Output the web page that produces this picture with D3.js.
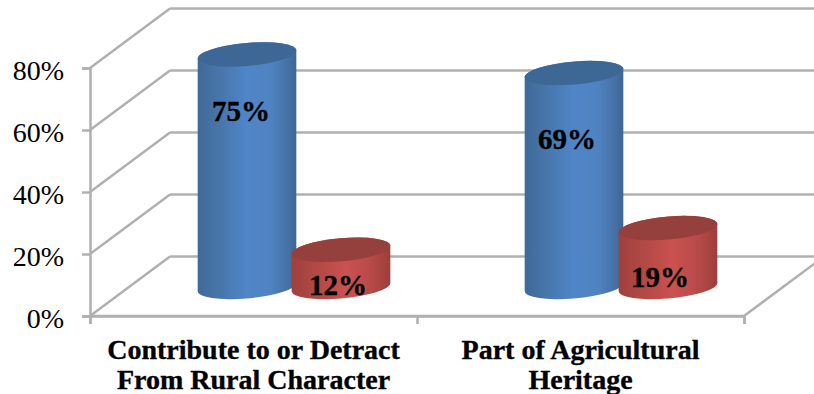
<!DOCTYPE html>
<html>
<head>
<meta charset="utf-8">
<script src="https://cdn.jsdelivr.net/npm/d3@7/dist/d3.min.js"></script>
<style>
html,body{margin:0;padding:0;background:#fff;overflow:hidden}
svg{display:block}
text{font-family:"Liberation Serif",serif;fill:#000}
.heavy{stroke:#000;stroke-width:0.35px}
</style>
</head>
<body>
<svg id="chart" width="814" height="394"></svg>
<script>
// Survey responses, in percent
const categories = ["Contribute to or Detract From Rural Character", "Part of Agricultural Heritage"];
const categoryLines = [["Contribute to or Detract", "From Rural Character"], ["Part of Agricultural", "Heritage"]];
const seriesNames = ["blue", "red"];
const blueValues = [75, 69];
const redValues = [12, 19];
const yTicks = [0, 20, 40, 60, 80];

// Layout of the oblique 3-D box
const frontLeft = 90, frontRight = 744, floorY = 316, topY = 68;
const depthX = 80, depthY = -59.5;
const barDepthY = -29;
const rx = 49.5, ry = 11.5, tilt = -5;
// Where each value label sits, measured down from the cylinder top, with a sideways nudge
const labelDrop = {blue: [66, 76], red: [45, 59]};
const labelNudge = {blue: [-6, -7], red: [-3, -8]};

const svg = d3.select("#chart");
const y = d3.scaleLinear().domain([0, 80]).range([floorY, topY]);
const x = d3.scaleBand().domain(categories).range([frontLeft, frontRight]);
const inner = d3.scaleBand().domain(seriesNames).range([110, 298]);

const defs = svg.append("defs");
function gradient(id, stops) {
  const g = defs.append("linearGradient").attr("id", id)
    .attr("x1", 0).attr("x2", 1).attr("y1", 0).attr("y2", 0);
  stops.forEach(([o, c]) => g.append("stop").attr("offset", o).attr("stop-color", c));
}
gradient("bodyBlue", [[0, "#3f6a99"], [0.18, "#4673a6"], [0.5, "#5086c9"], [0.75, "#4f82c0"], [0.93, "#446fa2"], [1, "#3e6693"]]);
gradient("bodyRed", [[0, "#a0403d"], [0.18, "#ad4643"], [0.55, "#cb5250"], [0.8, "#b84a47"], [1, "#9c3f3c"]]);
const capColor = {blue: "#3e6896", red: "#953f3c"};
const bodyFill = {blue: "url(#bodyBlue)", red: "url(#bodyRed)"};
defs.append("filter").attr("id", "soft").append("feGaussianBlur").attr("stdDeviation", 0.6);

const gridColor = "#b0b0b0", gridWidth = 2.5;
const lines = svg.append("g").attr("fill", "none").attr("stroke", gridColor).attr("stroke-width", gridWidth);

// Back wall gridlines and the receding lines on the side wall
yTicks.forEach(t => {
  lines.append("line")
    .attr("x1", frontLeft + depthX).attr("x2", 814)
    .attr("y1", y(t) + depthY).attr("y2", y(t) + depthY);
  lines.append("line")
    .attr("x1", frontLeft).attr("y1", y(t))
    .attr("x2", frontLeft + depthX).attr("y2", y(t) + depthY);
});

// Floor: front edge and right-hand receding edge
lines.append("line").attr("x1", frontLeft).attr("x2", frontRight).attr("y1", floorY).attr("y2", floorY);
lines.append("line")
  .attr("x1", frontRight).attr("y1", floorY)
  .attr("x2", frontRight + depthX).attr("y2", floorY + depthY);

// Axes, drawn by d3 and restyled
const yAxis = svg.append("g").attr("transform", `translate(${frontLeft},0)`)
  .call(d3.axisLeft(y).tickValues(yTicks).tickFormat(d => d + "%").tickSize(8).tickPadding(18));
yAxis.selectAll("text").attr("font-size", 28).attr("dy", "0.41em");
const xAxis = svg.append("g").attr("transform", `translate(0,${floorY})`)
  .call(d3.axisBottom(d3.scaleLinear().domain([0, 2]).range([frontLeft, frontRight]))
    .tickValues([0, 1, 2]).tickFormat("").tickSize(8));
[yAxis, xAxis].forEach(a => {
  a.select(".domain").attr("stroke", gridColor).attr("stroke-width", gridWidth);
  a.selectAll(".tick line").attr("stroke", gridColor).attr("stroke-width", gridWidth);
});

// Horizontal extreme of a rotated ellipse, relative to its centre
const th = tilt * Math.PI / 180;
const tExt = Math.atan2(-ry * Math.sin(th), rx * Math.cos(th));
const ex = rx * Math.cos(tExt) * Math.cos(th) - ry * Math.sin(tExt) * Math.sin(th);
const ey = rx * Math.cos(tExt) * Math.sin(th) + ry * Math.sin(tExt) * Math.cos(th);

function drawCylinder(cat, name, value) {
  const cx = x(cat) + inner(name) + inner.bandwidth() / 2;
  const base = y(0) + barDepthY;
  const top = y(value) + barDepthY;
  const g = svg.append("g").attr("filter", "url(#soft)");
  const arc = `A${rx},${ry} ${tilt} 0 0`;
  g.append("path").attr("fill", bodyFill[name]).attr("d",
    `M${cx - ex},${top - ey}L${cx - ex},${base - ey}${arc} ${cx + ex},${base + ey}L${cx + ex},${top + ey}${arc} ${cx - ex},${top - ey}Z`);
  g.append("ellipse").attr("fill", capColor[name])
    .attr("rx", rx).attr("ry", ry)
    .attr("transform", `translate(${cx},${top}) rotate(${tilt})`);
  return {cx, top};
}

const placed = [];
categories.forEach((cat, i) => {
  [["blue", blueValues[i]], ["red", redValues[i]]].forEach(([name, v]) => {
    placed.push({name, v, i, ...drawCylinder(cat, name, v)});
  });
});

// Value labels on the cylinders
svg.append("g").selectAll("text").data(placed).join("text")
  .attr("class", "heavy")
  .attr("x", d => d.cx + labelNudge[d.name][d.i])
  .attr("y", d => d.top + labelDrop[d.name][d.i])
  .attr("text-anchor", "middle").attr("font-weight", "bold").attr("font-size", 29)
  .text(d => d.v + "%");

// Category labels, two lines each
const catG = svg.append("g").selectAll("g").data(categories).join("g")
  .attr("transform", d => `translate(${x(d) + x.bandwidth() / 2},0)`);
catG.selectAll("text").data((d, i) => categoryLines[i]).join("text")
  .attr("class", "heavy")
  .attr("y", (d, i) => 359 + i * 30)
  .attr("text-anchor", "middle").attr("font-weight", "bold").attr("font-size", 28)
  .text(d => d);
</script>
</body>
</html>
